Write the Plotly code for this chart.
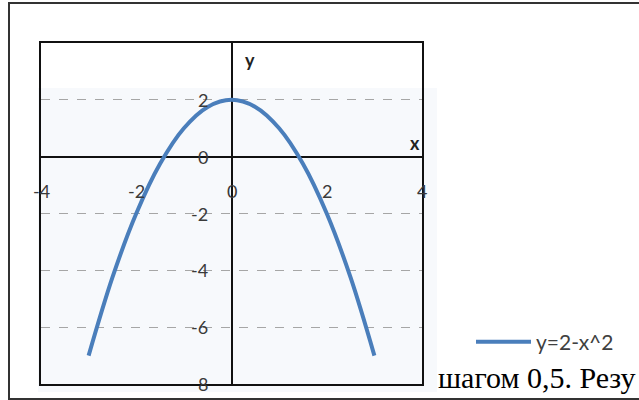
import plotly.graph_objects as go

# data: y = 2 - x^2, step 0.5
x_vals = [-3, -2.5, -2, -1.5, -1, -0.5, 0, 0.5, 1, 1.5, 2, 2.5, 3]
y_vals = [-7, -4.25, -2, -0.25, 1, 1.75, 2, 1.75, 1, -0.25, -2, -4.25, -7]
series_name = "y=2-x^2"

x_ticks = [-4, -2, 0, 2, 4]
x_tick_text = ["-4", "-2", "0", "2", "4"]
y_ticks = [2, 0, -2, -4, -6, -8]
y_tick_text = ["2", "0", "-2", "-4", "-6", "8"]

W, H = 639, 400
L, T, R, B = 41, 43, 422, 384  # plot box in pixels


def px(x):
    return (x - L) / (R - L)


def py(y):
    return (B - y) / (B - T)


FONT = "Lato, 'Open Sans', sans-serif"
TICK_FONT = dict(family=FONT, size=18, color="#3a3a3a")

fig = go.Figure()
fig.add_trace(go.Scatter(
    x=x_vals, y=y_vals,
    mode="lines",
    line=dict(color="#4A7EBB", width=4, shape="spline", smoothing=1.0),
    name=series_name,
))

annotations = []
for v, t in zip(x_ticks, x_tick_text):
    annotations.append(dict(
        x=v, y=0, xref="x", yref="y", text=t, showarrow=False,
        xanchor="center", yanchor="middle", yshift=-34, font=TICK_FONT,
    ))
for v, t in zip(y_ticks, y_tick_text):
    annotations.append(dict(
        x=0, y=v, xref="x", yref="y", text=t, showarrow=False,
        xanchor="right", yanchor="middle", xshift=-22, font=TICK_FONT,
    ))
annotations += [
    dict(x=px(250), y=py(60), xref="paper", yref="paper", text="<b>y</b>",
         xanchor="center", yanchor="middle", showarrow=False,
         font=dict(family=FONT, size=18, color="#222")),
    dict(x=px(415), y=py(143), xref="paper", yref="paper", text="<b>x</b>",
         xanchor="center", yanchor="middle", showarrow=False,
         font=dict(family=FONT, size=18, color="#222")),
    dict(x=px(436), y=py(377), xref="paper", yref="paper",
         xanchor="left", yanchor="middle",
         text="шагом 0,5. Резу", showarrow=False,
         font=dict(family="'Liberation Serif', serif", size=30, color="#000")),
]

fig.update_layout(
    width=W, height=H,
    margin=dict(l=L, r=W - R, t=T, b=H - B),
    paper_bgcolor="white",
    plot_bgcolor="rgba(0,0,0,0)",
    showlegend=True,
    legend=dict(
        x=px(471), y=py(342), xanchor="left", yanchor="middle",
        bgcolor="rgba(0,0,0,0)", itemwidth=55,
        font=dict(family=FONT, size=21, color="#404040"),
    ),
    xaxis=dict(
        range=[-4, 4], showgrid=False, showticklabels=False, ticks="",
        zeroline=True, zerolinecolor="#111", zerolinewidth=2,
        showline=True, linecolor="#111", linewidth=2, mirror=True,
    ),
    yaxis=dict(
        range=[-8, 4], dtick=2, showticklabels=False, ticks="",
        showgrid=True, gridcolor="#a6a6a6", griddash="dash", gridwidth=1,
        zeroline=True, zerolinecolor="#111", zerolinewidth=2,
        showline=True, linecolor="#111", linewidth=2, mirror=True,
    ),
    annotations=annotations,
    shapes=[
        # faint tint behind the chart
        dict(type="rect", xref="paper", yref="paper", layer="below",
             x0=px(38), x1=px(437), y0=py(392), y1=py(88),
             fillcolor="#f7f9fc", line=dict(width=0)),
        # outer frame
        dict(type="rect", xref="paper", yref="paper",
             x0=px(9), x1=px(660), y0=py(399), y1=py(3),
             line=dict(color="#333", width=2)),
    ],
)

fig.write_html(
    "out.html",
    config={"displayModeBar": False},
    post_script="document.body.style.margin='0';",
)
